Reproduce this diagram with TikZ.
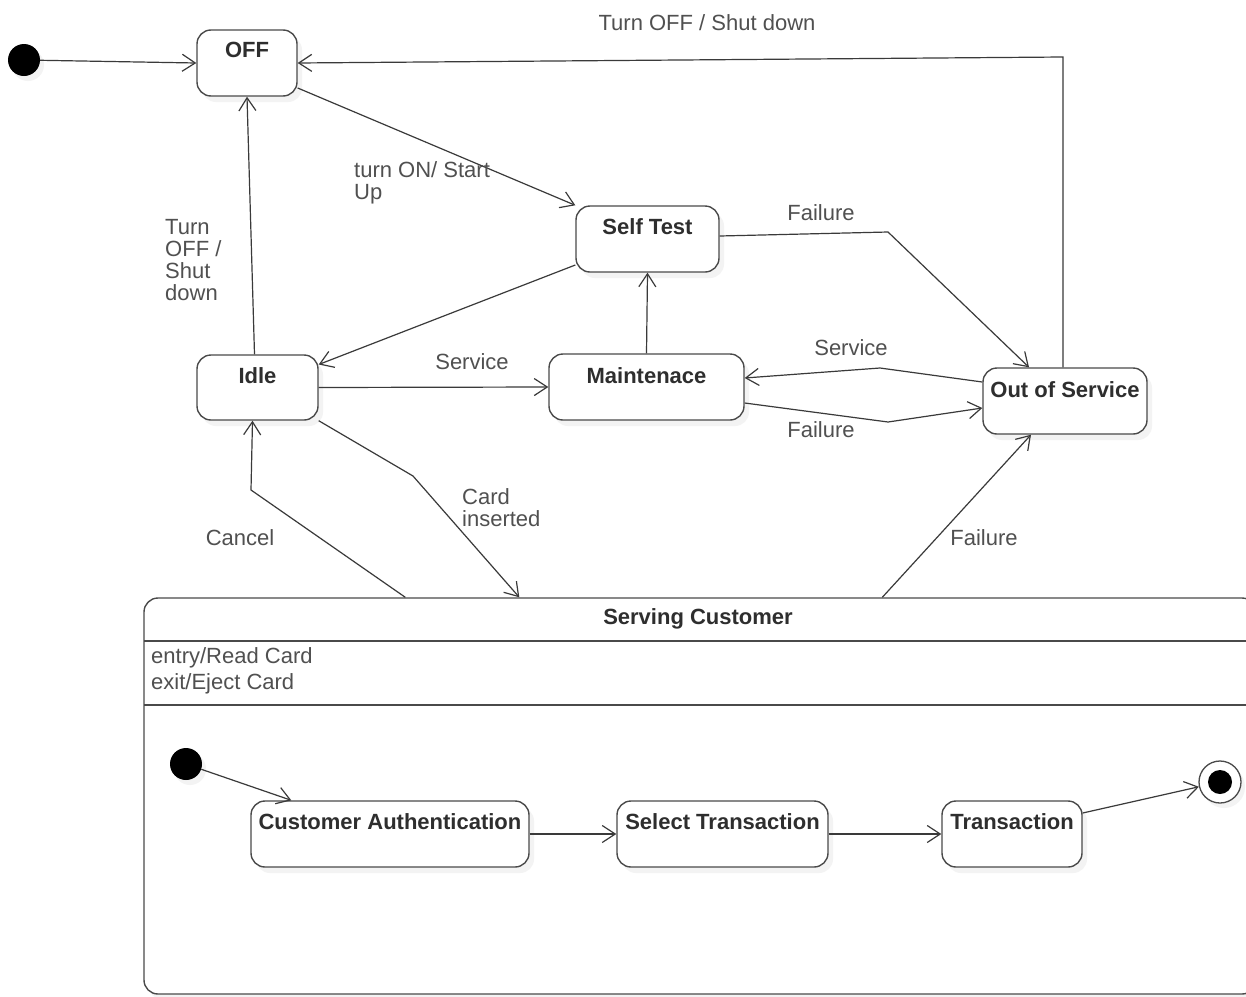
\documentclass[tikz,border=0pt]{standalone}
\usepackage{fontspec}
\setmainfont{Liberation Sans}
\usetikzlibrary{arrows.meta,shadows,calc}
\definecolor{linec}{HTML}{3A3A3A}
\definecolor{boxc}{HTML}{4A4A4A}
\definecolor{txtc}{HTML}{505050}
\definecolor{bldc}{HTML}{2E2E2E}
\tikzset{
  statebox/.style={draw=boxc, line width=1.4pt, rounded corners=14pt, fill=white,
    drop shadow={shadow xshift=5pt, shadow yshift=-6pt, fill=black!9}, inner sep=0pt},
  stname/.style={font=\fontsize{22}{22}\selectfont\bfseries, text=bldc, inner sep=0pt},
  lbl/.style={font=\fontsize{22}{22}\selectfont, text=txtc, inner sep=0pt},
  lblml/.style={lbl, align=left, anchor=west},
  tr/.style={draw=linec, line width=1.2pt, -{Straight Barb[length=13pt,width=17pt,line width=1.2pt]}},
  dot/.style={circle, fill=black, minimum size=32pt, inner sep=0pt,
    drop shadow={shadow xshift=4pt, shadow yshift=-5pt, fill=black!9}},
}
\begin{document}
\begin{tikzpicture}[x=1pt,y=-1pt]
\useasboundingbox (0,0) rectangle (1246,996);
\fill[white] (0,0) rectangle (1246,996);

% composite state
\node[statebox, minimum width=1112pt, minimum height=396pt] (sc) at (700,796) {};
\draw[draw=boxc, line width=1.4pt] (144,641) -- (1260,641);
\draw[draw=boxc, line width=1.4pt] (144,705) -- (1260,705);
\node[stname] (scT) at (698,619) {Serving Customer};
\node[lblml, font=\fontsize{22}{26}\selectfont] (scA) at (151,671) {entry/Read Card\\exit/Eject Card};

% states
\node[statebox, minimum width=100pt, minimum height=66pt] (off) at (247,63) {};
\node[stname] (offT) at (247,50) {OFF};
\node[statebox, minimum width=143pt, minimum height=66pt] (st) at (647.5,239) {};
\node[stname] (stT) at (647.5,227) {Self Test};
\node[statebox, minimum width=121pt, minimum height=65pt] (idle) at (257.5,387.5) {};
\node[stname] (idleT) at (257.5,376) {Idle};
\node[statebox, minimum width=195pt, minimum height=66pt] (mt) at (646.5,387) {};
\node[stname] (mtT) at (646.5,376) {Maintenace};
\node[statebox, minimum width=164pt, minimum height=66pt] (oos) at (1065,401) {};
\node[stname] (oosT) at (1065,390) {Out of Service};
\node[statebox, minimum width=278pt, minimum height=66pt] (ca) at (390,834) {};
\node[stname] (caT) at (390,822) {Customer Authentication};
\node[statebox, minimum width=211pt, minimum height=66pt] (sel) at (722.5,834) {};
\node[stname] (selT) at (722.5,822) {Select Transaction};
\node[statebox, minimum width=140pt, minimum height=66pt] (tx) at (1012,834) {};
\node[stname] (txT) at (1012,822) {Transaction};

% pseudo states
\node[dot] (init) at (24,60) {};
\node[dot] (init2) at (186,764) {};
\node[circle, draw=boxc, line width=1.3pt, fill=white, minimum size=42pt, inner sep=0pt,
  drop shadow={shadow xshift=4pt, shadow yshift=-5pt, fill=black!9}] (fin) at (1220,782) {};
\node[circle, fill=black, minimum size=24pt, inner sep=0pt] (finI) at (1220,782) {};

% bend coordinates
\coordinate (b1) at (888,232);
\coordinate (b2) at (880,368);
\coordinate (b3) at (888,422);
\coordinate (b4) at (1063,57);
\coordinate (b5) at (413,476);
\coordinate (b6) at (251,490);

% transitions
\draw[tr] (init) -- (off.west);
\draw[tr] ([yshift=-25pt]off.east) -- (st.north west);
\node[lblml] (l1) at (354,183) {turn ON/ Start\\Up};
\draw[tr] ([yshift=-26pt]st.west) -- ([yshift=23pt]idle.east);
\draw[tr] ([xshift=-3pt]idle.north) -- (off.south);
\node[lblml] (l2) at (165,260) {Turn\\OFF /\\Shut\\down};
\draw[tr] (idle.east) -- (mt.west);
\node[lbl] (l3) at (472,362) {Service};
\draw[tr] (mt.north) -- (st.south);
\draw[tr] ([yshift=3pt]st.east) -- (b1) -- ([xshift=-36pt]oos.north);
\node[lbl] (l4) at (821,213) {Failure};
\draw[tr] ([yshift=19pt]oos.west) -- (b2) -- ([yshift=9pt]mt.east);
\node[lbl] (l5) at (851,348) {Service};
\draw[tr] ([yshift=-16pt]mt.east) -- (b3) -- ([yshift=-7pt]oos.west);
\node[lbl] (l6) at (821,430) {Failure};
\draw[tr] ([xshift=-2pt]oos.north) -- (b4) -- (off.east);
\node[lbl] (l7) at (707,23) {Turn OFF / Shut down};
\draw[tr] (idle.south east) -- (b5) -- ($(sc.north west)+(376,0)$);
\node[lblml] (l8) at (462,508) {Card\\inserted};
\draw[tr] ($(sc.north west)+(262,0)$) -- (b6) -- ([xshift=-5pt]idle.south);
\node[lbl] (l9) at (240,538) {Cancel};
\draw[tr] ($(sc.north west)+(739,0)$) -- ([xshift=-34pt]oos.south);
\node[lbl] (l10) at (984,538) {Failure};
\draw[tr] (init2) -- ($(ca.north west)+(41,0)$);
\draw[tr] (ca.east) -- (sel.west);
\draw[tr] (sel.east) -- (tx.west);
\draw[tr] ([yshift=21pt]tx.east) -- (fin);
\end{tikzpicture}
\end{document}
